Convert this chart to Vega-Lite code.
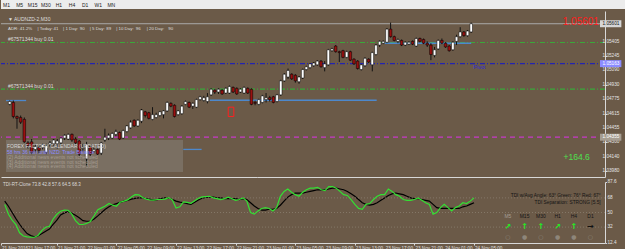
{
"$schema":"https://vega.github.io/schema/vega-lite/v6.json",
"background":"#6b5a48",
"padding":0,
"spacing":2,
"config":{"view":{"stroke":null},"font":"Liberation Sans","axis":{"grid":false}},
"datasets":{
"bars":[
{"t":"2016-11-21T14:00","o":1.04716,"h":1.04758,"l":1.04706,"c":1.04747,"g":60,"k":64},
{"t":"2016-11-21T14:30","o":1.04737,"h":1.04758,"l":1.04562,"c":1.04582,"g":47.8,"k":57.7},
{"t":"2016-11-21T15:00","o":1.04582,"h":1.04593,"l":1.04448,"c":1.04562,"g":40.5,"k":50},
{"t":"2016-11-21T15:30","o":1.04572,"h":1.04593,"l":1.045,"c":1.0452,"g":35,"k":42.5},
{"t":"2016-11-21T16:00","o":1.04551,"h":1.04572,"l":1.04293,"c":1.04304,"g":25,"k":35.5},
{"t":"2016-11-21T16:30","o":1.04293,"h":1.04314,"l":1.04231,"c":1.04262,"g":21,"k":29.5},
{"t":"2016-11-21T17:00","o":1.04304,"h":1.04335,"l":1.04169,"c":1.0419,"g":20,"k":24},
{"t":"2016-11-21T17:30","o":1.04221,"h":1.04273,"l":1.0419,"c":1.04252,"g":19.6,"k":21.5},
{"t":"2016-11-21T18:00","o":1.04242,"h":1.04262,"l":1.0418,"c":1.04211,"g":19.5,"k":20},
{"t":"2016-11-21T18:30","o":1.04242,"h":1.04283,"l":1.04221,"c":1.04273,"g":22,"k":21.3},
{"t":"2016-11-21T19:00","o":1.0419,"h":1.04283,"l":1.04169,"c":1.04262,"g":28,"k":24},
{"t":"2016-11-21T19:30","o":1.04273,"h":1.04314,"l":1.04252,"c":1.04293,"g":31.8,"k":27},
{"t":"2016-11-21T20:00","o":1.04283,"h":1.04335,"l":1.04262,"c":1.04324,"g":33,"k":29.5},
{"t":"2016-11-21T20:30","o":1.04283,"h":1.04335,"l":1.04231,"c":1.04314,"g":42,"k":35.5},
{"t":"2016-11-21T21:00","o":1.04293,"h":1.04355,"l":1.04273,"c":1.04345,"g":47.8,"k":40.5},
{"t":"2016-11-21T21:30","o":1.04345,"h":1.04386,"l":1.04324,"c":1.04376,"g":51.5,"k":47},
{"t":"2016-11-21T22:00","o":1.04335,"h":1.04396,"l":1.04324,"c":1.04386,"g":52.9,"k":49.5},
{"t":"2016-11-21T22:30","o":1.04386,"h":1.04396,"l":1.04304,"c":1.04324,"g":52.8,"k":51},
{"t":"2016-11-21T23:00","o":1.04335,"h":1.04355,"l":1.04273,"c":1.04293,"g":48,"k":49},
{"t":"2016-11-21T23:30","o":1.04314,"h":1.04324,"l":1.04149,"c":1.04169,"g":40,"k":46.5},
{"t":"2016-11-22T00:00","o":1.04231,"h":1.04283,"l":1.042,"c":1.04242,"g":35.2,"k":43.5},
{"t":"2016-11-22T00:30","o":1.04118,"h":1.04304,"l":1.04035,"c":1.04273,"g":35.2,"k":40},
{"t":"2016-11-22T01:00","o":1.04252,"h":1.04262,"l":1.04149,"c":1.04169,"g":36.5,"k":39.2},
{"t":"2016-11-22T01:30","o":1.042,"h":1.04242,"l":1.0418,"c":1.04221,"g":39,"k":39.2},
{"t":"2016-11-22T02:00","o":1.04221,"h":1.04231,"l":1.04159,"c":1.04169,"g":46,"k":42},
{"t":"2016-11-22T02:30","o":1.0418,"h":1.04304,"l":1.04159,"c":1.04293,"g":53.5,"k":45.8},
{"t":"2016-11-22T03:00","o":1.04324,"h":1.04448,"l":1.04304,"c":1.04355,"g":55.7,"k":50},
{"t":"2016-11-22T03:30","o":1.04345,"h":1.04396,"l":1.04324,"c":1.04376,"g":57.9,"k":54},
{"t":"2016-11-22T04:00","o":1.04345,"h":1.04407,"l":1.04335,"c":1.04396,"g":61.2,"k":57},
{"t":"2016-11-22T04:30","o":1.04386,"h":1.04438,"l":1.04366,"c":1.04417,"g":59,"k":59.5},
{"t":"2016-11-22T05:00","o":1.04407,"h":1.04417,"l":1.04324,"c":1.04335,"g":57.7,"k":61},
{"t":"2016-11-22T05:30","o":1.04345,"h":1.04438,"l":1.04335,"c":1.04427,"g":62.7,"k":62.5},
{"t":"2016-11-22T06:00","o":1.04417,"h":1.04489,"l":1.04407,"c":1.04479,"g":64,"k":64},
{"t":"2016-11-22T06:30","o":1.04458,"h":1.04541,"l":1.04448,"c":1.0452,"g":65.5,"k":65},
{"t":"2016-11-22T07:00","o":1.04541,"h":1.04551,"l":1.04469,"c":1.04479,"g":69,"k":66.5},
{"t":"2016-11-22T07:30","o":1.04479,"h":1.04551,"l":1.04469,"c":1.04541,"g":72,"k":67.5},
{"t":"2016-11-22T08:00","o":1.04531,"h":1.04665,"l":1.0451,"c":1.04654,"g":71.8,"k":68},
{"t":"2016-11-22T08:30","o":1.04634,"h":1.04644,"l":1.04572,"c":1.04593,"g":68.4,"k":68.2},
{"t":"2016-11-22T09:00","o":1.04624,"h":1.04634,"l":1.04551,"c":1.04562,"g":66.5,"k":67},
{"t":"2016-11-22T09:30","o":1.04551,"h":1.04685,"l":1.04541,"c":1.04603,"g":65.4,"k":66.1},
{"t":"2016-11-22T10:00","o":1.04572,"h":1.04624,"l":1.04562,"c":1.04603,"g":65.3,"k":65.2},
{"t":"2016-11-22T10:30","o":1.04593,"h":1.04644,"l":1.04582,"c":1.04634,"g":66,"k":65.8},
{"t":"2016-11-22T11:00","o":1.04603,"h":1.04654,"l":1.04562,"c":1.04644,"g":66,"k":67.3},
{"t":"2016-11-22T11:30","o":1.04644,"h":1.04747,"l":1.04634,"c":1.04737,"g":66.5,"k":68.2},
{"t":"2016-11-22T12:00","o":1.04727,"h":1.04737,"l":1.04685,"c":1.04696,"g":68.4,"k":67.8},
{"t":"2016-11-22T12:30","o":1.04706,"h":1.04716,"l":1.04572,"c":1.04582,"g":65.5,"k":66},
{"t":"2016-11-22T13:00","o":1.04603,"h":1.04654,"l":1.04593,"c":1.04644,"g":55.6,"k":64},
{"t":"2016-11-22T13:30","o":1.04613,"h":1.04706,"l":1.04603,"c":1.04696,"g":57,"k":62.7},
{"t":"2016-11-22T14:00","o":1.04716,"h":1.04758,"l":1.04706,"c":1.04747,"g":63,"k":62},
{"t":"2016-11-22T14:30","o":1.04737,"h":1.04747,"l":1.04675,"c":1.04685,"g":62.5,"k":61},
{"t":"2016-11-22T15:00","o":1.04696,"h":1.04737,"l":1.04665,"c":1.04727,"g":61.3,"k":60},
{"t":"2016-11-22T15:30","o":1.04685,"h":1.04778,"l":1.04675,"c":1.04768,"g":64.5,"k":62.7},
{"t":"2016-11-22T16:00","o":1.04768,"h":1.04809,"l":1.04758,"c":1.04799,"g":67.5,"k":65.5},
{"t":"2016-11-22T16:30","o":1.04758,"h":1.04809,"l":1.04747,"c":1.04789,"g":69.3,"k":67.6},
{"t":"2016-11-22T17:00","o":1.04747,"h":1.0484,"l":1.04727,"c":1.04799,"g":69.6,"k":68.5},
{"t":"2016-11-22T17:30","o":1.0482,"h":1.04892,"l":1.04809,"c":1.04882,"g":70,"k":69},
{"t":"2016-11-22T18:00","o":1.04871,"h":1.04882,"l":1.0483,"c":1.04851,"g":68,"k":69},
{"t":"2016-11-22T18:30","o":1.04851,"h":1.04892,"l":1.0483,"c":1.04882,"g":67,"k":68},
{"t":"2016-11-22T19:00","o":1.04871,"h":1.04882,"l":1.0482,"c":1.0483,"g":66,"k":68},
{"t":"2016-11-22T19:30","o":1.0484,"h":1.04902,"l":1.0483,"c":1.04892,"g":67,"k":67},
{"t":"2016-11-22T20:00","o":1.0484,"h":1.04923,"l":1.0483,"c":1.04912,"g":69,"k":67},
{"t":"2016-11-22T20:30","o":1.04902,"h":1.04912,"l":1.0484,"c":1.04851,"g":67,"k":67},
{"t":"2016-11-22T21:00","o":1.04892,"h":1.04902,"l":1.0482,"c":1.0483,"g":65,"k":67},
{"t":"2016-11-22T21:30","o":1.04851,"h":1.04892,"l":1.0484,"c":1.04882,"g":66,"k":66},
{"t":"2016-11-22T22:00","o":1.0484,"h":1.04912,"l":1.0483,"c":1.04902,"g":68,"k":67},
{"t":"2016-11-22T22:30","o":1.04892,"h":1.04902,"l":1.0483,"c":1.0484,"g":64,"k":66},
{"t":"2016-11-22T23:00","o":1.04882,"h":1.04892,"l":1.04706,"c":1.04716,"g":50,"k":62},
{"t":"2016-11-22T23:30","o":1.04737,"h":1.04758,"l":1.04706,"c":1.04727,"g":48,"k":58},
{"t":"2016-11-23T00:00","o":1.04716,"h":1.04778,"l":1.04706,"c":1.04768,"g":52,"k":55},
{"t":"2016-11-23T00:30","o":1.04737,"h":1.0482,"l":1.04727,"c":1.04809,"g":55,"k":53},
{"t":"2016-11-23T01:00","o":1.04768,"h":1.0484,"l":1.04737,"c":1.04789,"g":56,"k":53},
{"t":"2016-11-23T01:30","o":1.04789,"h":1.04809,"l":1.04747,"c":1.04768,"g":55,"k":54},
{"t":"2016-11-23T02:00","o":1.04799,"h":1.04809,"l":1.04727,"c":1.04737,"g":52,"k":54},
{"t":"2016-11-23T02:30","o":1.04747,"h":1.0483,"l":1.04737,"c":1.0482,"g":56,"k":55},
{"t":"2016-11-23T03:00","o":1.0482,"h":1.04985,"l":1.04809,"c":1.04974,"g":70,"k":59},
{"t":"2016-11-23T03:30","o":1.04974,"h":1.05057,"l":1.04964,"c":1.05047,"g":76,"k":64},
{"t":"2016-11-23T04:00","o":1.05016,"h":1.05109,"l":1.04995,"c":1.05088,"g":79,"k":69},
{"t":"2016-11-23T04:30","o":1.05047,"h":1.05057,"l":1.04985,"c":1.04995,"g":75,"k":72},
{"t":"2016-11-23T05:00","o":1.05036,"h":1.05047,"l":1.04954,"c":1.04974,"g":72,"k":74},
{"t":"2016-11-23T05:30","o":1.04964,"h":1.05026,"l":1.04943,"c":1.05016,"g":70,"k":74},
{"t":"2016-11-23T06:00","o":1.05005,"h":1.05109,"l":1.04995,"c":1.05098,"g":75,"k":74},
{"t":"2016-11-23T06:30","o":1.05098,"h":1.0514,"l":1.05088,"c":1.05129,"g":78,"k":75},
{"t":"2016-11-23T07:00","o":1.05119,"h":1.0517,"l":1.05109,"c":1.0516,"g":80,"k":76},
{"t":"2016-11-23T07:30","o":1.0514,"h":1.05181,"l":1.05129,"c":1.0517,"g":80,"k":77},
{"t":"2016-11-23T08:00","o":1.0515,"h":1.05201,"l":1.0514,"c":1.05191,"g":81,"k":78},
{"t":"2016-11-23T08:30","o":1.05191,"h":1.05201,"l":1.05119,"c":1.05129,"g":78,"k":78},
{"t":"2016-11-23T09:00","o":1.05119,"h":1.05191,"l":1.05078,"c":1.0516,"g":77,"k":78},
{"t":"2016-11-23T09:30","o":1.0515,"h":1.05325,"l":1.0514,"c":1.05315,"g":82,"k":79},
{"t":"2016-11-23T10:00","o":1.05305,"h":1.05336,"l":1.05294,"c":1.05325,"g":82,"k":80},
{"t":"2016-11-23T10:30","o":1.05356,"h":1.05367,"l":1.05284,"c":1.05294,"g":80,"k":80},
{"t":"2016-11-23T11:00","o":1.05294,"h":1.05305,"l":1.05181,"c":1.05284,"g":76,"k":79},
{"t":"2016-11-23T11:30","o":1.05305,"h":1.05315,"l":1.05222,"c":1.05232,"g":72,"k":78},
{"t":"2016-11-23T12:00","o":1.05232,"h":1.05305,"l":1.05222,"c":1.05294,"g":71,"k":76},
{"t":"2016-11-23T12:30","o":1.05294,"h":1.05305,"l":1.05191,"c":1.05201,"g":66,"k":73},
{"t":"2016-11-23T13:00","o":1.05212,"h":1.05222,"l":1.0515,"c":1.0516,"g":60,"k":70},
{"t":"2016-11-23T13:30","o":1.05191,"h":1.05201,"l":1.05098,"c":1.05109,"g":55,"k":66},
{"t":"2016-11-23T14:00","o":1.05098,"h":1.0516,"l":1.05088,"c":1.0515,"g":54,"k":62},
{"t":"2016-11-23T14:30","o":1.0514,"h":1.05232,"l":1.05129,"c":1.05222,"g":60,"k":60},
{"t":"2016-11-23T15:00","o":1.05212,"h":1.05222,"l":1.0517,"c":1.05181,"g":61,"k":59},
{"t":"2016-11-23T15:30","o":1.0515,"h":1.05294,"l":1.05078,"c":1.05284,"g":66,"k":60},
{"t":"2016-11-23T16:00","o":1.05263,"h":1.05377,"l":1.05253,"c":1.05367,"g":70,"k":62},
{"t":"2016-11-23T16:30","o":1.05367,"h":1.05418,"l":1.05346,"c":1.05408,"g":72,"k":65},
{"t":"2016-11-23T17:00","o":1.05387,"h":1.05418,"l":1.05377,"c":1.05408,"g":72,"k":68},
{"t":"2016-11-23T17:30","o":1.05398,"h":1.05552,"l":1.05387,"c":1.05542,"g":79,"k":71},
{"t":"2016-11-23T18:00","o":1.05542,"h":1.05614,"l":1.05449,"c":1.05459,"g":76,"k":73},
{"t":"2016-11-23T18:30","o":1.05459,"h":1.0547,"l":1.05408,"c":1.05418,"g":72,"k":74},
{"t":"2016-11-23T19:00","o":1.05408,"h":1.05439,"l":1.05387,"c":1.05428,"g":70,"k":73},
{"t":"2016-11-23T19:30","o":1.05418,"h":1.05428,"l":1.05356,"c":1.05367,"g":66,"k":72},
{"t":"2016-11-23T20:00","o":1.05367,"h":1.05408,"l":1.05356,"c":1.05398,"g":65,"k":70},
{"t":"2016-11-23T20:30","o":1.05377,"h":1.05408,"l":1.05367,"c":1.05398,"g":65,"k":68},
{"t":"2016-11-23T21:00","o":1.05408,"h":1.05418,"l":1.05367,"c":1.05377,"g":66,"k":67},
{"t":"2016-11-23T21:30","o":1.05356,"h":1.05449,"l":1.05346,"c":1.05439,"g":68,"k":67},
{"t":"2016-11-23T22:00","o":1.05439,"h":1.05449,"l":1.05398,"c":1.05408,"g":65,"k":66},
{"t":"2016-11-23T22:30","o":1.05428,"h":1.05439,"l":1.05377,"c":1.05387,"g":62,"k":65},
{"t":"2016-11-23T23:00","o":1.05387,"h":1.05408,"l":1.05346,"c":1.05367,"g":60,"k":64},
{"t":"2016-11-23T23:30","o":1.05367,"h":1.05387,"l":1.05201,"c":1.05263,"g":48,"k":60},
{"t":"2016-11-24T00:00","o":1.05253,"h":1.05346,"l":1.05232,"c":1.05315,"g":50,"k":56},
{"t":"2016-11-24T00:30","o":1.05325,"h":1.05428,"l":1.05315,"c":1.05418,"g":56,"k":55},
{"t":"2016-11-24T01:00","o":1.05418,"h":1.05439,"l":1.05377,"c":1.05387,"g":60,"k":55},
{"t":"2016-11-24T01:30","o":1.05387,"h":1.05398,"l":1.05336,"c":1.05346,"g":56,"k":55},
{"t":"2016-11-24T02:00","o":1.05356,"h":1.05367,"l":1.05294,"c":1.05305,"g":52,"k":55},
{"t":"2016-11-24T02:30","o":1.05315,"h":1.05408,"l":1.05305,"c":1.05398,"g":56,"k":55},
{"t":"2016-11-24T03:00","o":1.05408,"h":1.0548,"l":1.05367,"c":1.05459,"g":58,"k":55},
{"t":"2016-11-24T03:30","o":1.05459,"h":1.05563,"l":1.05449,"c":1.05511,"g":62,"k":57},
{"t":"2016-11-24T04:00","o":1.05511,"h":1.05521,"l":1.05459,"c":1.0547,"g":61,"k":58},
{"t":"2016-11-24T04:30","o":1.0547,"h":1.05532,"l":1.05459,"c":1.05521,"g":64,"k":60},
{"t":"2016-11-24T05:00","o":1.05511,"h":1.05614,"l":1.05501,"c":1.05601,"g":68,"k":62}
],
"levels":[{"n":"bid","p":1.05601},{"n":"buy","p":1.05395},{"n":"pivot","p":1.05163},{"n":"buy","p":1.04882},{"n":"mag","p":1.04355}],
"segs":[{"t1":"2016-11-21T13:30","t2":"2016-11-21T16:15","p":1.04758},{"t1":"2016-11-22T17:18","t2":"2016-11-23T16:06","p":1.04761},{"t1":"2016-11-22T13:42","t2":"2016-11-22T16:12","p":1.04221},{"t1":"2016-11-23T17:12","t2":"2016-11-24T05:00","p":1.05387}],
"notes":[
{"t":"2016-11-21T13:46","p":1.05656,"s":"▼ AUDNZD-2,M30","k":"w"},
{"t":"2016-11-21T13:46","p":1.05428,"s":"#67571344 buy 0.01","k":"w"},
{"t":"2016-11-21T13:46","p":1.04912,"s":"#67571344 buy 0.01","k":"w"},
{"t":"2016-11-21T13:38","p":1.04262,"s":"FOREX FACTORY CALENDAR (UPDATED)","k":"ft"},
{"t":"2016-11-21T13:38","p":1.04195,"s":"58 hrs 36 min until NZD: Trade Balance","k":"fb"},
{"t":"2016-11-21T13:38","p":1.04138,"s":"(2) Additional news events not scheduled","k":"fg"},
{"t":"2016-11-21T13:38","p":1.04087,"s":"(3) Additional news events not scheduled","k":"fg"},
{"t":"2016-11-21T13:38","p":1.04035,"s":"(4) Additional news events not scheduled","k":"fg"}
],
"adr":[
{"t":"2016-11-21T13:46","s":"ADR:","k":"w"},
{"t":"2016-11-21T15:23","s":"41.2%","k":"g"},
{"t":"2016-11-21T17:48","s":"| Today:","k":"w"},
{"t":"2016-11-21T20:00","s":"41","k":"g"},
{"t":"2016-11-21T21:17","s":"| 1 Day:","k":"w"},
{"t":"2016-11-21T23:34","s":"90","k":"g"},
{"t":"2016-11-22T00:55","s":"| 5 Day:","k":"w"},
{"t":"2016-11-22T03:12","s":"89","k":"g"},
{"t":"2016-11-22T04:32","s":"| 10 Day:","k":"w"},
{"t":"2016-11-22T07:13","s":"96","k":"g"},
{"t":"2016-11-22T08:42","s":"| 20 Day:","k":"w"},
{"t":"2016-11-22T11:39","s":"90","k":"g"}
],
"plab":[{"p":1.05405},{"p":1.05245},{"p":1.0509},{"p":1.0493},{"p":1.04775},{"p":1.04615},{"p":1.04455},{"p":1.043},{"p":1.0414},{"p":1.0398}],
"ilab":[{"v":87.6},{"v":68},{"v":50},{"v":32},{"v":12.4}],
"tlab":[
{"t":"2016-11-21T13:30","s":"21 Nov 2016"},
{"t":"2016-11-21T17:00","s":"21 Nov 17:00"},
{"t":"2016-11-21T21:00","s":"21 Nov 21:00"},
{"t":"2016-11-22T01:00","s":"22 Nov 01:00"},
{"t":"2016-11-22T05:00","s":"22 Nov 05:00"},
{"t":"2016-11-22T09:00","s":"22 Nov 09:00"},
{"t":"2016-11-22T13:00","s":"22 Nov 13:00"},
{"t":"2016-11-22T17:00","s":"22 Nov 17:00"},
{"t":"2016-11-22T21:00","s":"22 Nov 21:00"},
{"t":"2016-11-23T01:00","s":"23 Nov 01:00"},
{"t":"2016-11-23T05:00","s":"23 Nov 05:00"},
{"t":"2016-11-23T09:00","s":"23 Nov 09:00"},
{"t":"2016-11-23T13:00","s":"23 Nov 13:00"},
{"t":"2016-11-23T17:00","s":"23 Nov 17:00"},
{"t":"2016-11-23T21:00","s":"23 Nov 21:00"},
{"t":"2016-11-24T01:00","s":"24 Nov 01:00"},
{"t":"2016-11-24T05:00","s":"24 Nov 05:00"}
],
"tags":[{"p":1.05601,"s":"1.05601","k":"bid"},{"p":1.05163,"s":"1.05163","k":"piv"},{"p":1.04355,"s":"1.04355","k":"mag"}],
"tfs":[
{"tf":"M5","t":"2016-11-24T09:33","a":"↗","d":"○"},
{"tf":"M15","t":"2016-11-24T11:47","a":"↑","d":"●"},
{"tf":"M30","t":"2016-11-24T13:59","a":"↑","d":"○"},
{"tf":"H1","t":"2016-11-24T16:14","a":"↗","d":"●"},
{"tf":"H4","t":"2016-11-24T18:25","a":"↑","d":"●"},
{"tf":"D1","t":"2016-11-24T20:38","a":"→","d":"○"}
]
},
"vconcat":[
{
"width":625,"height":9,
"view":{"fill":"#ececec","stroke":null},
"data":{"values":[{"b":"M1","n":0},{"b":"M5","n":1},{"b":"M15","n":2},{"b":"M30","n":3},{"b":"H1","n":4},{"b":"H4","n":5},{"b":"D1","n":6},{"b":"W1","n":7},{"b":"MN","n":8}]},
"mark":{"type":"text","fontSize":5,"color":"#222222"},
"encoding":{"x":{"field":"n","type":"quantitative","scale":{"domain":[-0.42,47.29],"nice":false,"zero":false},"axis":null},"text":{"field":"b"}}
},
{
"width":604,"height":166,
"layer":[
{"data":{"values":[{"t1":"2016-11-21T13:30","t2":"2016-11-22T13:40","p1":1.04324,"p2":1.03973}]},
"mark":{"type":"rect","color":"#7c7165","opacity":0.92},
"encoding":{"x":{"field":"t1","type":"temporal","scale":{"domain":[{"year":2016,"month":11,"date":21,"hours":13,"minutes":30},{"year":2016,"month":11,"date":24,"hours":22,"minutes":35}],"nice":false},
"axis":{"labels":false,"ticks":false,"domain":true,"domainColor":"#d8d8d8","domainWidth":1,"grid":false,"title":null}},"x2":{"field":"t2"},
"y":{"field":"p1","type":"quantitative","scale":{"domain":[1.03973,1.05686],"nice":false,"zero":false},
"axis":{"orient":"right","values":[1.05405,1.05245,1.0509,1.0493,1.04775,1.04615,1.04455,1.043,1.0414,1.0398],"labels":false,"tickColor":"#d8d8d8","tickSize":1.5,"domainColor":"#d8d8d8","grid":false,"title":null}},"y2":{"field":"p2"}}},
{"data":{"name":"levels"},"transform":[{"filter":"datum.n=='bid'"}],"mark":{"type":"rule","color":"#a9a9a9","strokeWidth":1},
"encoding":{"y":{"field":"p","type":"quantitative","scale":{"domain":[1.03973,1.05686],"nice":false,"zero":false}}}},
{"data":{"name":"levels"},"transform":[{"filter":"datum.n=='buy'"}],"mark":{"type":"rule","color":"#3aa83a","strokeWidth":1.2,"strokeDash":[5,2,1,2]},
"encoding":{"y":{"field":"p","type":"quantitative","scale":{"domain":[1.03973,1.05686],"nice":false,"zero":false}}}},
{"data":{"name":"levels"},"transform":[{"filter":"datum.n=='pivot'"}],"mark":{"type":"rule","color":"#2424b0","strokeWidth":1.2,"strokeDash":[5,2,1,2]},
"encoding":{"y":{"field":"p","type":"quantitative","scale":{"domain":[1.03973,1.05686],"nice":false,"zero":false}}}},
{"data":{"name":"levels"},"transform":[{"filter":"datum.n=='mag'"}],"mark":{"type":"rule","color":"#c838c8","strokeWidth":1.3,"strokeDash":[5,4]},
"encoding":{"y":{"field":"p","type":"quantitative","scale":{"domain":[1.03973,1.05686],"nice":false,"zero":false}}}},
{"data":{"name":"segs"},"mark":{"type":"rule","color":"#4d88cc","strokeWidth":1.3},
"encoding":{"x":{"field":"t1","type":"temporal","scale":{"domain":[{"year":2016,"month":11,"date":21,"hours":13,"minutes":30},{"year":2016,"month":11,"date":24,"hours":22,"minutes":35}],"nice":false}},"x2":{"field":"t2"},
"y":{"field":"p","type":"quantitative","scale":{"domain":[1.03973,1.05686],"nice":false,"zero":false}}}},
{"data":{"name":"bars"},"mark":{"type":"rule","color":"#141414","strokeWidth":1},
"encoding":{"x":{"field":"t","type":"temporal","scale":{"domain":[{"year":2016,"month":11,"date":21,"hours":13,"minutes":30},{"year":2016,"month":11,"date":24,"hours":22,"minutes":35}],"nice":false}},
"y":{"field":"l","type":"quantitative","scale":{"domain":[1.03973,1.05686],"nice":false,"zero":false}},"y2":{"field":"h"}}},
{"data":{"name":"bars"},"mark":{"type":"bar","size":2.6,"stroke":"#000000","strokeWidth":0.5},
"encoding":{"x":{"field":"t","type":"temporal","scale":{"domain":[{"year":2016,"month":11,"date":21,"hours":13,"minutes":30},{"year":2016,"month":11,"date":24,"hours":22,"minutes":35}],"nice":false}},
"y":{"field":"o","type":"quantitative","scale":{"domain":[1.03973,1.05686],"nice":false,"zero":false}},
"y2":{"field":"c"},
"fill":{"condition":{"test":"datum.c >= datum.o","value":"#ffffff"},"value":"#9a1010"}}},
{"data":{"values":[{"t1":"2016-11-22T19:50","t2":"2016-11-22T20:36","p1":1.04685,"p2":1.04582}]},
"mark":{"type":"rect","fillOpacity":0,"stroke":"#ff2020","strokeWidth":1},
"encoding":{"x":{"field":"t1","type":"temporal","scale":{"domain":[{"year":2016,"month":11,"date":21,"hours":13,"minutes":30},{"year":2016,"month":11,"date":24,"hours":22,"minutes":35}],"nice":false}},"x2":{"field":"t2"},
"y":{"field":"p1","type":"quantitative","scale":{"domain":[1.03973,1.05686],"nice":false,"zero":false}},"y2":{"field":"p2"}}},
{"data":{"name":"notes"},"mark":{"type":"text","align":"left","baseline":"middle","fontSize":5},
"encoding":{"x":{"field":"t","type":"temporal","scale":{"domain":[{"year":2016,"month":11,"date":21,"hours":13,"minutes":30},{"year":2016,"month":11,"date":24,"hours":22,"minutes":35}],"nice":false}},
"y":{"field":"p","type":"quantitative","scale":{"domain":[1.03973,1.05686],"nice":false,"zero":false}},
"text":{"field":"s"},
"color":{"field":"k","type":"nominal","scale":{"domain":["w","ft","fb","fg"],"range":["#dedede","#d6d6d6","#8c8cff","#a69d91"]},"legend":null}}},
{"data":{"name":"adr"},"mark":{"type":"text","align":"left","baseline":"middle","fontSize":4.4},
"encoding":{"x":{"field":"t","type":"temporal","scale":{"domain":[{"year":2016,"month":11,"date":21,"hours":13,"minutes":30},{"year":2016,"month":11,"date":24,"hours":22,"minutes":35}],"nice":false}},
"y":{"datum":1.05542,"type":"quantitative","scale":{"domain":[1.03973,1.05686],"nice":false,"zero":false}},
"text":{"field":"s"},
"color":{"field":"k","type":"nominal","scale":{"domain":["w","g"],"range":["#dedede","#3fe03f"]},"legend":null}}},
{"data":{"values":[{"t":"2016-11-24T22:26","p":1.05625,"s":"1.05601"}]},"mark":{"type":"text","align":"right","baseline":"middle","fontSize":10,"color":"#ff1a1a"},
"encoding":{"x":{"field":"t","type":"temporal","scale":{"domain":[{"year":2016,"month":11,"date":21,"hours":13,"minutes":30},{"year":2016,"month":11,"date":24,"hours":22,"minutes":35}],"nice":false}},
"y":{"field":"p","type":"quantitative","scale":{"domain":[1.03973,1.05686],"nice":false,"zero":false}},"text":{"field":"s"}}},
{"data":{"values":[{"t":"2016-11-24T19:24","p":1.04138,"s":"+164.6"}]},"mark":{"type":"text","align":"center","baseline":"middle","fontSize":8.5,"color":"#4ee04e"},
"encoding":{"x":{"field":"t","type":"temporal","scale":{"domain":[{"year":2016,"month":11,"date":21,"hours":13,"minutes":30},{"year":2016,"month":11,"date":24,"hours":22,"minutes":35}],"nice":false}},
"y":{"field":"p","type":"quantitative","scale":{"domain":[1.03973,1.05686],"nice":false,"zero":false}},"text":{"field":"s"}}},
{"data":{"values":[{"t":"2016-11-24T05:18","p":1.05129,"s":"Pivot"}]},"mark":{"type":"text","align":"left","baseline":"middle","fontSize":5.5,"color":"#2b2bd6"},
"encoding":{"x":{"field":"t","type":"temporal","scale":{"domain":[{"year":2016,"month":11,"date":21,"hours":13,"minutes":30},{"year":2016,"month":11,"date":24,"hours":22,"minutes":35}],"nice":false}},
"y":{"field":"p","type":"quantitative","scale":{"domain":[1.03973,1.05686],"nice":false,"zero":false}},"text":{"field":"s"}}},
{"data":{"name":"plab"},"mark":{"type":"text","align":"left","baseline":"middle","fontSize":4.7,"dx":2.5,"color":"#e4e4e4"},
"encoding":{"x":{"datum":{"year":2016,"month":11,"date":24,"hours":22,"minutes":35},"type":"temporal","scale":{"domain":[{"year":2016,"month":11,"date":21,"hours":13,"minutes":30},{"year":2016,"month":11,"date":24,"hours":22,"minutes":35}],"nice":false}},
"y":{"field":"p","type":"quantitative","scale":{"domain":[1.03973,1.05686],"nice":false,"zero":false}},
"text":{"field":"p","type":"quantitative","format":".5f"}}},
{"data":{"name":"tags"},"mark":{"type":"bar","size":7},
"encoding":{"x":{"datum":{"year":2016,"month":11,"date":24,"hours":22,"minutes":35},"type":"temporal","scale":{"domain":[{"year":2016,"month":11,"date":21,"hours":13,"minutes":30},{"year":2016,"month":11,"date":24,"hours":22,"minutes":35}],"nice":false}},
"x2":{"datum":{"year":2016,"month":11,"date":25,"hours":1,"minutes":30}},
"y":{"field":"p","type":"quantitative","scale":{"domain":[1.03973,1.05686],"nice":false,"zero":false}},
"color":{"field":"k","type":"nominal","scale":{"domain":["bid","piv","mag"],"range":["#f4f4f4","#1010e8","#e010e0"]},"legend":null}}},
{"data":{"name":"tags"},"mark":{"type":"text","align":"left","baseline":"middle","fontSize":4.7,"dx":2.5},
"encoding":{"x":{"datum":{"year":2016,"month":11,"date":24,"hours":22,"minutes":35},"type":"temporal","scale":{"domain":[{"year":2016,"month":11,"date":21,"hours":13,"minutes":30},{"year":2016,"month":11,"date":24,"hours":22,"minutes":35}],"nice":false}},
"y":{"field":"p","type":"quantitative","scale":{"domain":[1.03973,1.05686],"nice":false,"zero":false}},
"text":{"field":"s"},
"color":{"condition":{"test":"datum.k=='bid'","value":"#111111"},"value":"#ffffff"}}}
]
},
{
"width":604,"height":61,
"layer":[
{"data":{"name":"bars"},"mark":{"type":"line","color":"#000000","strokeWidth":1.2},
"encoding":{"x":{"field":"t","type":"temporal","scale":{"domain":[{"year":2016,"month":11,"date":21,"hours":13,"minutes":30},{"year":2016,"month":11,"date":24,"hours":22,"minutes":35}],"nice":false},
"axis":{"values":[{"year":2016,"month":11,"date":21,"hours":13,"minutes":30},{"year":2016,"month":11,"date":21,"hours":17},{"year":2016,"month":11,"date":21,"hours":21},{"year":2016,"month":11,"date":22,"hours":1},{"year":2016,"month":11,"date":22,"hours":5},{"year":2016,"month":11,"date":22,"hours":9},{"year":2016,"month":11,"date":22,"hours":13},{"year":2016,"month":11,"date":22,"hours":17},{"year":2016,"month":11,"date":22,"hours":21},{"year":2016,"month":11,"date":23,"hours":1},{"year":2016,"month":11,"date":23,"hours":5},{"year":2016,"month":11,"date":23,"hours":9},{"year":2016,"month":11,"date":23,"hours":13},{"year":2016,"month":11,"date":23,"hours":17},{"year":2016,"month":11,"date":23,"hours":21},{"year":2016,"month":11,"date":24,"hours":1},{"year":2016,"month":11,"date":24,"hours":5}],
"labels":false,"tickColor":"#d8d8d8","tickSize":2,"domainColor":"#d8d8d8","grid":false,"title":null}},
"y":{"field":"k","type":"quantitative","scale":{"domain":[12.4,87.6],"nice":false,"zero":false},
"axis":{"orient":"right","values":[87.6,68,50,32,12.4],"labels":false,"tickColor":"#d8d8d8","tickSize":1.5,"domainColor":"#d8d8d8","grid":false,"title":null}}}},
{"data":{"values":[{"v":68},{"v":50},{"v":32}]},"mark":{"type":"rule","color":"#8a7f70","strokeWidth":0.8,"strokeDash":[1,2]},
"encoding":{"y":{"field":"v","type":"quantitative","scale":{"domain":[12.4,87.6],"nice":false,"zero":false}}}},
{"data":{"name":"bars"},"mark":{"type":"line","color":"#33e033","strokeWidth":1.2},
"encoding":{"x":{"field":"t","type":"temporal","scale":{"domain":[{"year":2016,"month":11,"date":21,"hours":13,"minutes":30},{"year":2016,"month":11,"date":24,"hours":22,"minutes":35}],"nice":false}},
"y":{"field":"g","type":"quantitative","scale":{"domain":[12.4,87.6],"nice":false,"zero":false}}}},
{"data":{"name":"ilab"},"mark":{"type":"text","align":"left","baseline":"middle","fontSize":4.7,"dx":2.5,"color":"#e4e4e4"},
"encoding":{"x":{"datum":{"year":2016,"month":11,"date":24,"hours":22,"minutes":35},"type":"temporal","scale":{"domain":[{"year":2016,"month":11,"date":21,"hours":13,"minutes":30},{"year":2016,"month":11,"date":24,"hours":22,"minutes":35}],"nice":false}},
"y":{"field":"v","type":"quantitative","scale":{"domain":[12.4,87.6],"nice":false,"zero":false}},
"text":{"field":"v","type":"quantitative","format":"~f"}}},
{"data":{"name":"tlab"},"mark":{"type":"text","align":"left","baseline":"top","fontSize":4.6,"dx":1,"dy":2.5,"color":"#e0e0e0"},
"encoding":{"x":{"field":"t","type":"temporal","scale":{"domain":[{"year":2016,"month":11,"date":21,"hours":13,"minutes":30},{"year":2016,"month":11,"date":24,"hours":22,"minutes":35}],"nice":false}},
"y":{"datum":12.4,"type":"quantitative","scale":{"domain":[12.4,87.6],"nice":false,"zero":false}},
"text":{"field":"s"}}},
{"data":{"values":[{"t":"2016-11-21T13:46","s":"TDI-RT-Clone 73.8 42.8 57.6 64.5 68.3"}]},"mark":{"type":"text","align":"left","baseline":"middle","fontSize":4.5,"color":"#dcdcdc"},
"encoding":{"x":{"field":"t","type":"temporal","scale":{"domain":[{"year":2016,"month":11,"date":21,"hours":13,"minutes":30},{"year":2016,"month":11,"date":24,"hours":22,"minutes":35}],"nice":false}},
"y":{"datum":83.9,"type":"quantitative","scale":{"domain":[12.4,87.6],"nice":false,"zero":false}},"text":{"field":"s"}}},
{"data":{"values":[{"t":"2016-11-24T22:00","v":70.3,"s":"TDI w/Avg Angle: 63°  Green: 76°  Red: 67°"},{"t":"2016-11-24T22:00","v":61.7,"s":"TDI Separation: STRONG [5.5]"}]},"mark":{"type":"text","align":"right","baseline":"middle","fontSize":4.8,"color":"#141414"},
"encoding":{"x":{"field":"t","type":"temporal","scale":{"domain":[{"year":2016,"month":11,"date":21,"hours":13,"minutes":30},{"year":2016,"month":11,"date":24,"hours":22,"minutes":35}],"nice":false}},
"y":{"field":"v","type":"quantitative","scale":{"domain":[12.4,87.6],"nice":false,"zero":false}},"text":{"field":"s"}}},
{"data":{"name":"tfs"},"mark":{"type":"text","align":"center","baseline":"middle","fontSize":5},
"encoding":{"x":{"field":"t","type":"temporal","scale":{"domain":[{"year":2016,"month":11,"date":21,"hours":13,"minutes":30},{"year":2016,"month":11,"date":24,"hours":22,"minutes":35}],"nice":false}},
"y":{"datum":45.7,"type":"quantitative","scale":{"domain":[12.4,87.6],"nice":false,"zero":false}},"text":{"field":"tf"},
"color":{"condition":{"test":"datum.tf=='M5'","value":"#a59e93"},"value":"#151515"}}},
{"data":{"name":"tfs"},"mark":{"type":"text","align":"center","baseline":"middle","fontSize":8,"fontWeight":"bold","font":"DejaVu Sans"},
"encoding":{"x":{"field":"t","type":"temporal","scale":{"domain":[{"year":2016,"month":11,"date":21,"hours":13,"minutes":30},{"year":2016,"month":11,"date":24,"hours":22,"minutes":35}],"nice":false}},
"y":{"datum":32.1,"type":"quantitative","scale":{"domain":[12.4,87.6],"nice":false,"zero":false}},"text":{"field":"a"},
"color":{"condition":{"test":"datum.tf=='D1'","value":"#111111"},"value":"#22ee22"}}},
{"data":{"name":"tfs"},"mark":{"type":"text","align":"center","baseline":"middle","fontSize":6,"font":"DejaVu Sans","color":"#8e867a"},
"encoding":{"x":{"field":"t","type":"temporal","scale":{"domain":[{"year":2016,"month":11,"date":21,"hours":13,"minutes":30},{"year":2016,"month":11,"date":24,"hours":22,"minutes":35}],"nice":false}},
"y":{"datum":19.8,"type":"quantitative","scale":{"domain":[12.4,87.6],"nice":false,"zero":false}},"text":{"field":"d"}}}
]
}
]
}
